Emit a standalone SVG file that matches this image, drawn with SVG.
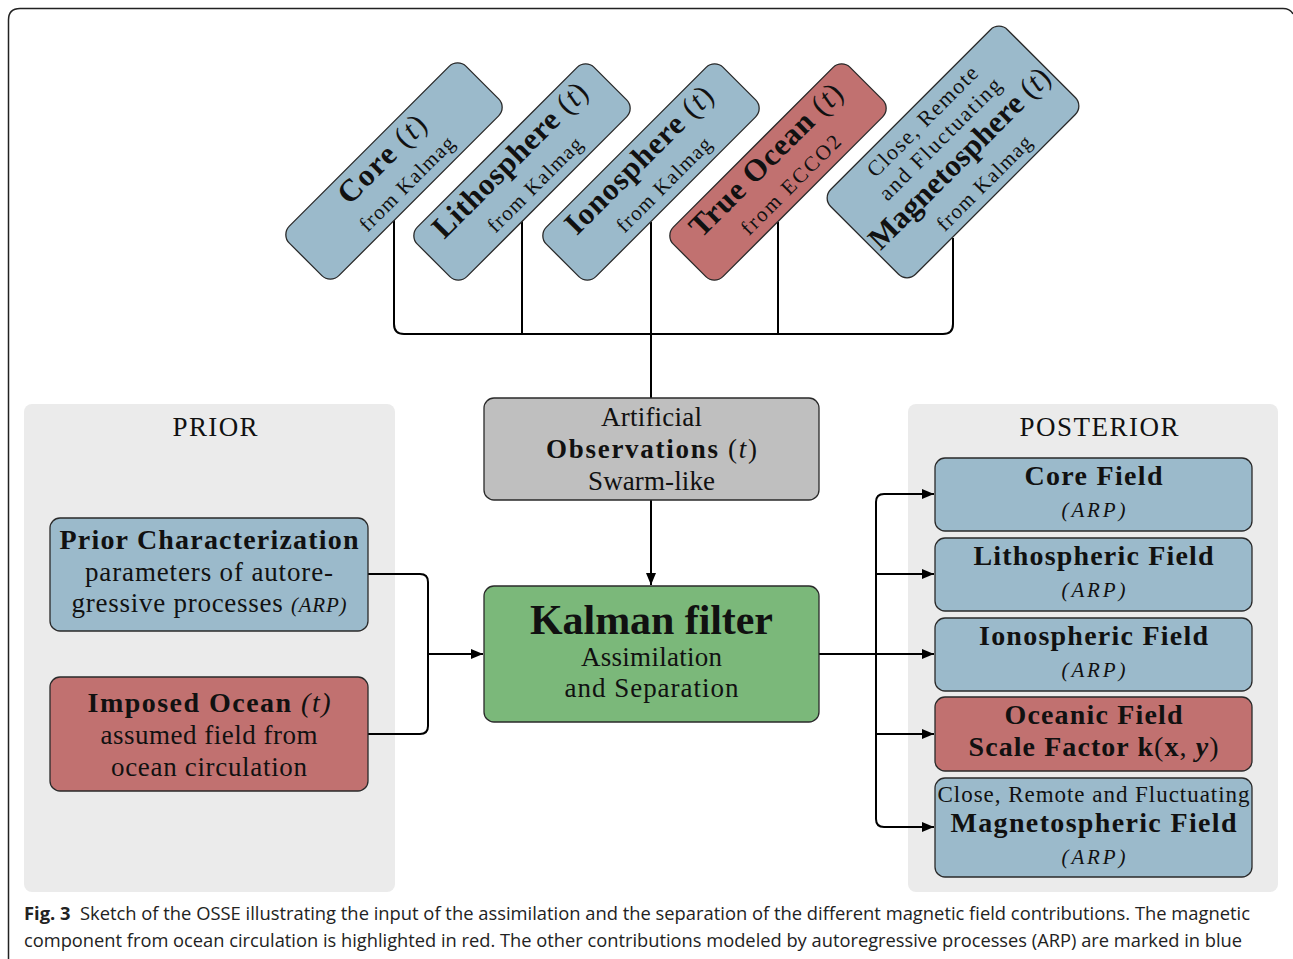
<svg xmlns="http://www.w3.org/2000/svg" width="1293" height="959" viewBox="0 0 1293 959">
<defs>
<style>
.t{font-family:"Liberation Serif","DejaVu Serif",serif;fill:#111;text-anchor:middle}
.b{font-weight:bold}
.i{font-style:italic}
.n{font-weight:normal}
.box{stroke:#2a2a2a;stroke-width:1.3}
.blue{fill:#9bbacb}
.red{fill:#c17170}
.green{fill:#7bb87a}
.gray{fill:#bfbfbf}
.panel{fill:#ebebeb}
.ln{fill:none;stroke:#000;stroke-width:2}
.cap{font-family:"Open Sans","Noto Sans","Liberation Sans",sans-serif;font-size:17.5px;fill:#222}
</style>
<marker id="ah" markerWidth="12" markerHeight="10" refX="12" refY="5" orient="auto" markerUnits="userSpaceOnUse"><path d="M0,0 L12,5 L0,10 z" fill="#000"/></marker>
</defs>
<rect width="1293" height="959" fill="#fff"/>
<path d="M8.5 959 V20 Q8.5 8.5 20 8.5 H1283 Q1290 8.5 1293 14" fill="none" stroke="#222" stroke-width="1.5"/>

<g id="prior-panel">
<rect x="24" y="404" width="371" height="488" rx="8" class="panel"/>
<text class="t" x="215" y="436" font-size="27" textLength="85">PRIOR</text>
</g>
<g id="posterior-panel">
<rect x="908" y="404" width="370" height="488" rx="8" class="panel"/>
<text class="t" x="1099" y="436" font-size="27" textLength="159">POSTERIOR</text>
</g>

<g id="connectors">
<path class="ln" d="M394 220 V324 Q394 334 404 334 H943 Q953 334 953 324 V238"/>
<path class="ln" d="M522 220 V334"/>
<path class="ln" d="M778 222 V334"/>
<path class="ln" d="M651 222 V398"/>
<path class="ln" d="M651 500 V585" marker-end="url(#ah)"/>
<path class="ln" d="M368 574 H420 Q428 574 428 582 V726 Q428 734 420 734 H368"/>
<path class="ln" d="M428 654 H483" marker-end="url(#ah)"/>
<path class="ln" d="M819 654 H934" marker-end="url(#ah)"/>
<path class="ln" d="M934 494 H884 Q876 494 876 502 V819 Q876 827 884 827 H934" marker-end="url(#ah)"/>
<path class="ln" d="M884 494 H934" marker-end="url(#ah)"/>
<path class="ln" d="M876 574 H934" marker-end="url(#ah)"/>
<path class="ln" d="M876 734 H934" marker-end="url(#ah)"/>
</g>

<g id="core-in" transform="translate(394,171) rotate(-45)">
<rect x="-125" y="-35" width="250" height="70" rx="12" class="box blue"/>
<text class="t" y="-7" font-size="31" textLength="112"><tspan class="b">Core</tspan> (<tspan class="i">t</tspan>)</text>
<text class="t" y="25" font-size="21" textLength="125">from Kalmag</text>
</g>
<g id="litho-in" transform="translate(522,172) rotate(-45)">
<rect x="-125" y="-35" width="250" height="70" rx="12" class="box blue"/>
<text class="t" y="-7" font-size="31" textLength="206"><tspan class="b">Lithosphere</tspan> (<tspan class="i">t</tspan>)</text>
<text class="t" y="25" font-size="21" textLength="125">from Kalmag</text>
</g>
<g id="iono-in" transform="translate(651,172) rotate(-45)">
<rect x="-125" y="-35" width="250" height="70" rx="12" class="box blue"/>
<text class="t" y="-7" font-size="31" textLength="196"><tspan class="b">Ionosphere</tspan> (<tspan class="i">t</tspan>)</text>
<text class="t" y="25" font-size="21" textLength="125">from Kalmag</text>
</g>
<g id="ocean-in" transform="translate(778,172) rotate(-45)">
<rect x="-125" y="-35" width="250" height="70" rx="12" class="box red"/>
<text class="t" y="-7" font-size="31" textLength="203"><tspan class="b">True Ocean</tspan> (<tspan class="i">t</tspan>)</text>
<text class="t" y="25" font-size="21" textLength="132">from ECCO2</text>
</g>
<g id="magneto-in" transform="translate(953,152) rotate(-45)">
<rect x="-125" y="-60" width="250" height="120" rx="12" class="box blue"/>
<text class="t" y="-36" font-size="22" textLength="147">Close, Remote</text>
<text class="t" y="-11" font-size="22" textLength="163">and Fluctuating</text>
<text class="t" y="19" font-size="31" textLength="243"><tspan class="b">Magnetosphere</tspan> (<tspan class="i">t</tspan>)</text>
<text class="t" y="51" font-size="21" textLength="125">from Kalmag</text>
</g>

<g id="observations">
<rect x="484" y="398" width="335" height="102" rx="10" class="box gray"/>
<text class="t" x="651.5" y="426" font-size="27" textLength="101">Artificial</text>
<text class="t" x="651.5" y="458" font-size="27" textLength="211"><tspan class="b">Observations</tspan> (<tspan class="i">t</tspan>)</text>
<text class="t" x="651.5" y="490" font-size="27" textLength="127">Swarm-like</text>
</g>
<g id="kalman">
<rect x="484" y="586" width="335" height="136" rx="10" class="box green"/>
<text class="t b" x="651.5" y="634" font-size="42" textLength="243">Kalman filter</text>
<text class="t" x="651.5" y="666" font-size="27" textLength="141">Assimilation</text>
<text class="t" x="651.5" y="697" font-size="27" textLength="174">and Separation</text>
</g>

<g id="prior-char">
<rect x="50" y="518" width="318" height="113" rx="10" class="box blue"/>
<text class="t b" x="209" y="549" font-size="28" textLength="299">Prior Characterization</text>
<text class="t" x="209" y="581" font-size="27" textLength="248">parameters of autore-</text>
<text class="t" x="209" y="612" font-size="27" textLength="275">gressive processes <tspan class="i" font-size="21">(ARP)</tspan></text>
</g>
<g id="imposed-ocean">
<rect x="50" y="677" width="318" height="114" rx="10" class="box red"/>
<text class="t" x="209" y="712" font-size="28" textLength="243"><tspan class="b">Imposed Ocean</tspan> <tspan class="i">(t)</tspan></text>
<text class="t" x="209" y="744" font-size="27" textLength="217">assumed field from</text>
<text class="t" x="209" y="776" font-size="27" textLength="196">ocean circulation</text>
</g>

<g id="core-field">
<rect x="935" y="458" width="317" height="73" rx="10" class="box blue"/>
<text class="t b" x="1093.5" y="485" font-size="28" textLength="138">Core Field</text>
<text class="t i" x="1093.5" y="517" font-size="21" textLength="64">(ARP)</text>
</g>
<g id="litho-field">
<rect x="935" y="538" width="317" height="73" rx="10" class="box blue"/>
<text class="t b" x="1093.5" y="565" font-size="28" textLength="240">Lithospheric Field</text>
<text class="t i" x="1093.5" y="597" font-size="21" textLength="64">(ARP)</text>
</g>
<g id="iono-field">
<rect x="935" y="618" width="317" height="73" rx="10" class="box blue"/>
<text class="t b" x="1093.5" y="645" font-size="28" textLength="229">Ionospheric Field</text>
<text class="t i" x="1093.5" y="677" font-size="21" textLength="64">(ARP)</text>
</g>
<g id="ocean-field">
<rect x="935" y="697" width="317" height="74" rx="10" class="box red"/>
<text class="t b" x="1093.5" y="724" font-size="28" textLength="178">Oceanic Field</text>
<text class="t b" x="1093.5" y="756" font-size="28" textLength="250">Scale Factor k<tspan class="n">(</tspan>x<tspan class="n">, </tspan><tspan class="i">y</tspan><tspan class="n">)</tspan></text>
</g>
<g id="magneto-field">
<rect x="935" y="778" width="317" height="99" rx="10" class="box blue"/>
<text class="t" x="1093.5" y="802" font-size="23" textLength="312">Close, Remote and Fluctuating</text>
<text class="t b" x="1093.5" y="832" font-size="28" textLength="286">Magnetospheric Field</text>
<text class="t i" x="1093.5" y="864" font-size="21" textLength="64">(ARP)</text>
</g>

<g id="caption">
<text class="cap" x="24" y="920" textLength="1226" lengthAdjust="spacingAndGlyphs"><tspan font-weight="bold">Fig. 3</tspan><tspan dx="9">Sketch of the OSSE illustrating the input of the assimilation and the separation of the different magnetic field contributions. The magnetic</tspan></text>
<text class="cap" x="24" y="947" textLength="1218" lengthAdjust="spacingAndGlyphs">component from ocean circulation is highlighted in red. The other contributions modeled by autoregressive processes (ARP) are marked in blue</text>
</g>
</svg>
